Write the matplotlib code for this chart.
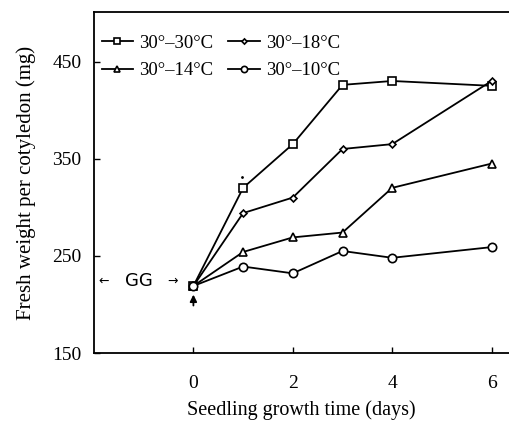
import matplotlib
matplotlib.use("Agg")
import matplotlib.pyplot as plt

# data
days = [0, 1, 2, 3, 4, 6]
w_30_30 = [219, 320, 365, 426, 430, 425]
w_30_18 = [219, 294, 310, 360, 365, 430]
w_30_14 = [219, 254, 269, 274, 320, 345]
w_30_10 = [219, 239, 232, 255, 248, 259]

labels = ["30\u00b0\u201330\u00b0C", "30\u00b0\u201318\u00b0C",
          "30\u00b0\u201314\u00b0C", "30\u00b0\u201310\u00b0C"]
yticks = [150, 250, 350, 450]
xticks = [0, 2, 4, 6]

plt.rcParams['font.family'] = ['Liberation Serif', 'DejaVu Serif']

fig = plt.figure(figsize=(5.09, 4.21), dpi=100)
ax = fig.add_axes([0.1847, 0.1615, 0.8153, 0.81])

kw = dict(color='black', lw=1.3, mfc='white', mec='black', mew=1.2)
ax.plot(days, w_30_30, marker='s', ms=6, label=labels[0], **kw)
ax.plot(days, w_30_18, marker='D', ms=3.5, label=labels[1], **kw)
ax.plot(days, w_30_14, marker='^', ms=6, label=labels[2], **kw)
ax.plot(days, w_30_10, marker='o', ms=6, label=labels[3], **kw)

# legend order: row1 = 30-30, 30-18 ; row2 = 30-14, 30-10
h, l = ax.get_legend_handles_labels()
order = [0, 2, 1, 3]
ax.legend([h[i] for i in order], [l[i] for i in order], ncol=2, loc='upper left',
          frameon=False, fontsize=13.5, handlelength=1.7, handletextpad=0.3,
          columnspacing=0.8, labelspacing=0.55, borderaxespad=0.0,
          markerscale=0.75, bbox_to_anchor=(0.0, 0.955))

# GG span and arrow at day 0
ax.text(-1.1, 224, "GG", ha='center', va='center', fontsize=13, family='DejaVu Sans')
ax.text(-1.8, 224, "\u2190", ha='center', va='center', fontsize=9, family='DejaVu Sans')
ax.text(-0.42, 224, "\u2192", ha='center', va='center', fontsize=9, family='DejaVu Sans')
ax.annotate("", xy=(0, 213), xytext=(0, 196),
            arrowprops=dict(arrowstyle='-|>', color='black', lw=1.3, mutation_scale=10))
ax.plot([0.97], [331], marker='.', ms=2, color='black')

ax.set_xlim(-2, 6.35)
ax.set_ylim(150, 501)
ax.set_xticks(xticks)
ax.set_yticks(yticks)
ax.tick_params(direction='in', length=4, width=1, labelsize=14)
ax.tick_params(axis='x', pad=16)
ax.tick_params(axis='y', pad=9)
ax.spines['right'].set_visible(False)
for s in ['left', 'bottom', 'top']:
    ax.spines[s].set_linewidth(1.3)

ax.set_ylabel("Fresh weight per cotyledon (mg)", fontsize=15, labelpad=12)
ax.set_xlabel("Seedling growth time (days)", fontsize=14.5, labelpad=6)

fig.savefig("out.png", dpi=100)
